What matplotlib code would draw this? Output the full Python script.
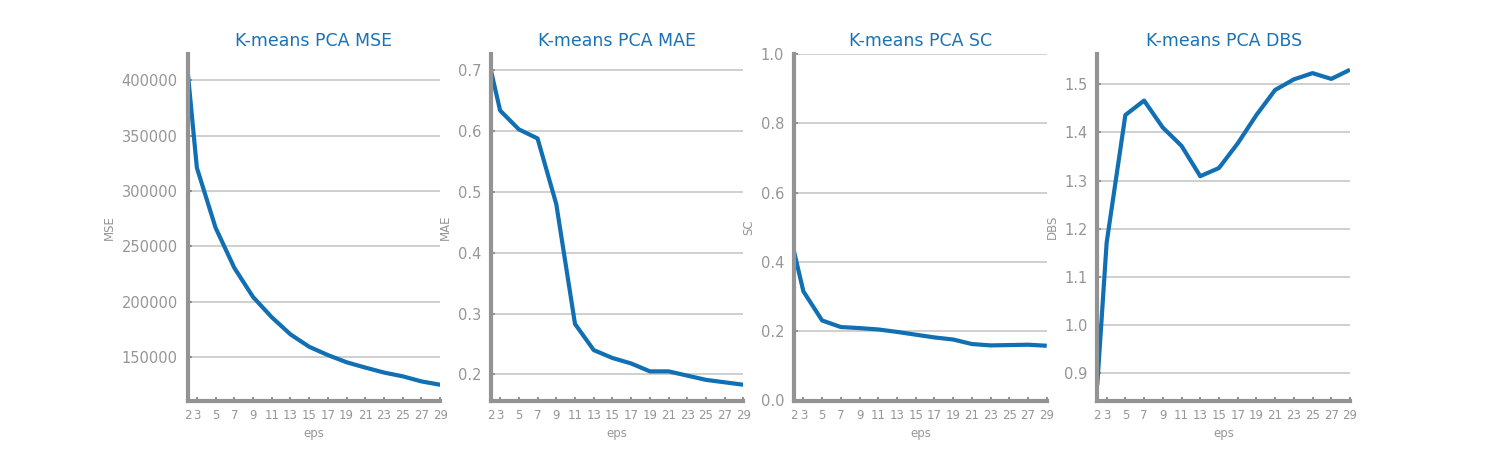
import matplotlib
matplotlib.use("Agg")
import matplotlib.pyplot as plt

eps = [2, 3, 5, 7, 9, 11, 13, 15, 17, 19, 21, 23, 25, 27, 29]
mse = [409500, 321000, 266800, 230600, 204300, 186000, 170500, 159300,
       151800, 145300, 140500, 136000, 132600, 128000, 125000]
mae = [0.701, 0.634, 0.603, 0.588, 0.480, 0.283, 0.240, 0.227,
       0.218, 0.205, 0.205, 0.198, 0.191, 0.187, 0.183]
sc = [0.430, 0.315, 0.231, 0.212, 0.209, 0.205, 0.198, 0.190,
      0.182, 0.176, 0.163, 0.159, 0.160, 0.161, 0.158]
dbs = [0.876, 1.171, 1.436, 1.466, 1.410, 1.372, 1.309, 1.326,
       1.377, 1.436, 1.488, 1.510, 1.523, 1.511, 1.530]

titles = ["K-means PCA MSE", "K-means PCA MAE", "K-means PCA SC", "K-means PCA DBS"]
ylabels = ["MSE", "MAE", "SC", "DBS"]
series = [mse, mae, sc, dbs]

LINE = "#116fb3"
TITLE = "#1a72b5"
GRAY = "#939393"
TEXT = "#969696"
GRID = "#cccccc"

fig, axes = plt.subplots(1, 4, figsize=(15, 4.5), dpi=100)
for ax, t, yl, ys in zip(axes, titles, ylabels, series):
    ax.plot(eps, ys, color=LINE, linewidth=3, solid_capstyle="butt")
    ax.set_xlim(eps[0], eps[-1])
    ax.set_xticks(eps)
    ax.set_title(t, color=TITLE, fontsize=12.5)
    ax.set_xlabel("eps", color=TEXT, fontsize=8.5)
    ax.set_ylabel(yl, color=TEXT, fontsize=8.5)
    for s in ["top", "right"]:
        ax.spines[s].set_visible(False)
    for s in ["left", "bottom"]:
        ax.spines[s].set_color(GRAY)
        ax.spines[s].set_linewidth(3)
    ax.grid(axis="y", color=GRID, linewidth=1.3)
    ax.set_axisbelow(True)
    ax.tick_params(axis="x", direction="in", length=3, width=1.5, color=GRAY,
                   labelcolor=TEXT, labelsize=8.5, pad=6)
    ax.tick_params(axis="y", direction="in", length=3, width=1.5, color=GRAY,
                   labelcolor=TEXT, labelsize=10.5, pad=7)

axes[2].set_ylim(0.0, 1.0)

fig.savefig("out.png", dpi=100)
